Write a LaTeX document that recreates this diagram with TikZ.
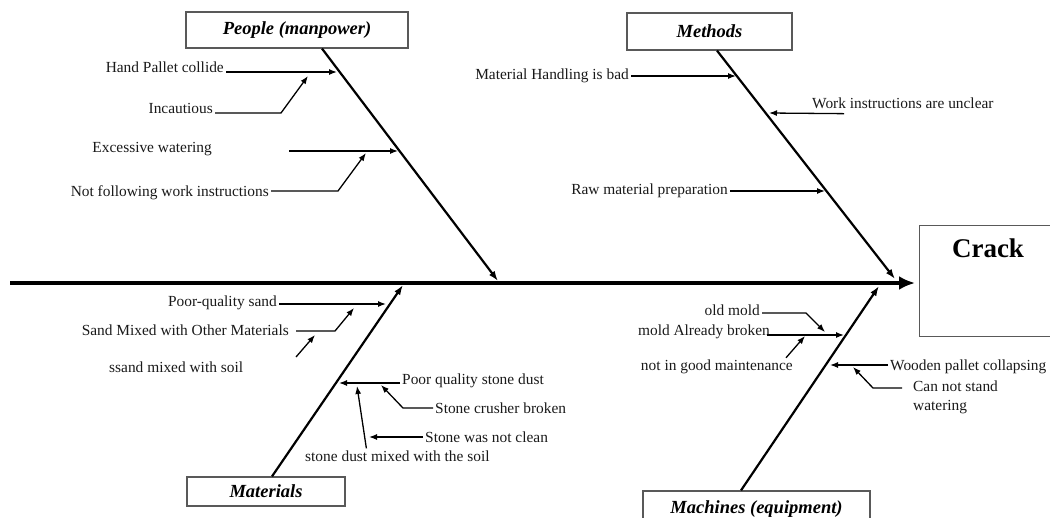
\documentclass[tikz,border=0pt]{standalone}
\usepackage{fontspec}
\setmainfont{Liberation Serif}
\usetikzlibrary{arrows.meta,calc}

\tikzset{
    cat/.style={draw=black!65, line width=1.2pt, fill=white, inner sep=0pt,
        font=\fontsize{18.5}{20}\selectfont\bfseries\itshape},
    cause/.style={inner sep=2pt, text=black!90, font=\fontsize{15.4}{19}\selectfont},
    bone/.style={line width=2.2pt, -{Latex[length=10pt,width=7pt]}},
    sub/.style={line width=1.3pt, -{Latex[length=8pt,width=6pt]}},
    spine/.style={line width=4.5pt, -{Latex[length=16pt,width=14pt]}},
}

\begin{document}
\begin{tikzpicture}[x=1pt, y=-1pt]
    \useasboundingbox (0,0) rectangle (1050,517);

    \node[draw=black!65, line width=1.2pt, minimum width=150pt, minimum height=111pt,
        anchor=north west] (crack) at (919,225) {};
    \node[font=\fontsize{27}{30}\selectfont\bfseries] (crk) at (988,248) {Crack};
    \coordinate (tail) at (10,283);
    \draw[spine, shorten >=4pt] (tail) -- (tail -| crack.west);

    \begin{scope}
        \node[cat, minimum width=222pt, minimum height=36pt] (people) at (297,30) {People (manpower)};
        \coordinate (pe) at (498,281);
        \draw[bone] ([xshift=25pt]people.south) -- (pe);
        \node[cause, anchor=base east] (hpc) at (226,72) {Hand Pallet collide};
        \coordinate (hpct) at (337,72);
        \draw[sub] (hpc.base east) -- (hpct);
        \node[cause, anchor=base east] (inc) at (215,113) {Incautious};
        \coordinate (inct) at (308,76);
        \draw[sub] (inc.base east) -- ++(66,0) -- (inct);
        \node[cause, anchor=east] (exw) at (214,149) {Excessive watering};
        \coordinate (exws) at (289,151);
        \coordinate (exwt) at (398,151);
        \draw[sub] (exws) -- (exwt);
        \node[cause, anchor=east] (nfw) at (271,193) {Not following work instructions};
        \coordinate (nfwt) at (366,153);
        \draw[sub] ([yshift=2pt]nfw.east) -- ++(67,0) -- (nfwt);
    \end{scope}

    \begin{scope}
        \node[cat, minimum width=165pt, minimum height=37pt] (methods) at (709.5,31.5) {Methods};
        \coordinate (me) at (895,279);
        \draw[bone] ([xshift=7.5pt]methods.south) -- (me);
        \node[cause, anchor=east] (mhb) at (631,76) {Material Handling is bad};
        \coordinate (mhbt) at (736,76);
        \draw[sub] (mhb.east) -- (mhbt);
        \node[cause, anchor=west] (wiu) at (810,103) {Work instructions are unclear};
        \coordinate (wiut) at (769,113);
        \draw[sub] ([xshift=34pt,yshift=-3pt]wiu.south west) -- (wiut);
        \node[cause, anchor=east] (rmp) at (730,191) {Raw material preparation};
        \coordinate (rmpt) at (825,191);
        \draw[sub] (rmp.east) -- (rmpt);
    \end{scope}

    \begin{scope}
        \node[cat, minimum width=158pt, minimum height=29pt] (materials) at (266,491.5) {Materials};
        \coordinate (mae) at (403,285);
        \draw[bone] ([xshift=6pt]materials.north) -- (mae);
        \node[cause, anchor=east] (pqs) at (279,303) {Poor-quality sand};
        \coordinate (pqst) at (386,304);
        \draw[sub] ([yshift=-1pt]pqs.east) -- (pqst);
        \node[cause, anchor=east] (smo) at (291,330) {Sand Mixed with Other Materials};
        \coordinate (smot) at (354,308);
        \draw[sub] ([xshift=5pt,yshift=-1pt]smo.east) -- ++(39,0) -- (smot);
        \node[cause, anchor=west] (ssm) at (107,367) {ssand mixed with soil};
        \coordinate (ssms) at (296,357);
        \coordinate (ssmt) at (315,335);
        \draw[sub] (ssms) -- (ssmt);
        \node[cause, anchor=west] (pqsd) at (400,381) {Poor quality stone dust};
        \coordinate (pqsdt) at (339,383);
        \draw[sub] ([yshift=-2pt]pqsd.west) -- (pqsdt);
        \node[cause, anchor=west] (scb) at (433,408) {Stone crusher broken};
        \coordinate (scbt) at (381,385);
        \draw[sub] (scb.west) -- ++(-30,0) -- (scbt);
        \node[cause, anchor=west] (swnc) at (423,437) {Stone was not clean};
        \coordinate (swnct) at (369,437);
        \draw[sub] (swnc.west) -- (swnct);
        \node[cause, anchor=west] (sdm) at (303,456) {stone dust mixed with the soil};
        \coordinate (sdmt) at (357,386);
        \draw[sub] ([xshift=-31pt]sdm.north) -- (sdmt);
    \end{scope}

    \begin{scope}
        \node[cat, minimum width=227pt, minimum height=36pt] (machines) at (756.5,509) {Machines (equipment)};
        \coordinate (mce) at (879,286);
        \draw[bone] ([xshift=-15.5pt]machines.north) -- (mce);
        \node[cause, anchor=east] (oldm) at (762,310) {old mold};
        \coordinate (oldmt) at (825,332);
        \draw[sub] ([yshift=-3pt]oldm.east) -- ++(44,0) -- (oldmt);
        \node[cause, anchor=east] (mab) at (772,332) {mold Already broken};
        \coordinate (mabt) at (844,335);
        \draw[sub] ([xshift=-5pt,yshift=-3pt]mab.east) -- (mabt);
        \node[cause, anchor=east] (nigm) at (795,367) {not in good maintenance};
        \coordinate (nigmt) at (805,336);
        \draw[sub] ([xshift=-9pt]nigm.north east) -- (nigmt);
        \node[cause, anchor=west] (wpc) at (888,367) {Wooden pallet collapsing};
        \coordinate (wpct) at (830,365);
        \draw[sub] ([yshift=2pt]wpc.west) -- (wpct);
        \node[cause, anchor=north west, align=left] (cns) at (911,379) {Can not stand\\watering};
        \coordinate (cnst) at (853,367);
        \draw[sub] ([xshift=-9pt,yshift=-9pt]cns.north west) -- ++(-29,0) -- (cnst);
    \end{scope}
\end{tikzpicture}
\end{document}
